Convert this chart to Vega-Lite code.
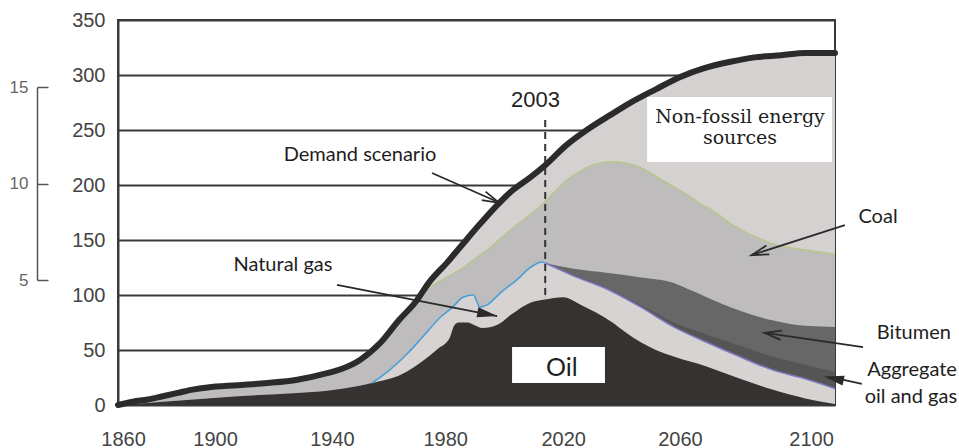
{
  "$schema": "https://vega.github.io/schema/vega-lite/v6.json",
  "width": 717,
  "height": 385,
  "autosize": {"type": "none"},
  "padding": {"left": 118, "top": 20, "right": 124, "bottom": 43},
  "background": "white",
  "config": {"view": {"stroke": "#3a3a3a", "strokeWidth": 2}},
  "datasets": {
    "demand": [
      {"year": 1860, "v": 0}, {"year": 1865, "v": 3}, {"year": 1870, "v": 5}, {"year": 1875, "v": 8},
      {"year": 1880, "v": 11}, {"year": 1885, "v": 14}, {"year": 1890, "v": 16}, {"year": 1900, "v": 18},
      {"year": 1910, "v": 20}, {"year": 1920, "v": 23}, {"year": 1930, "v": 29}, {"year": 1935, "v": 33},
      {"year": 1941, "v": 41}, {"year": 1948, "v": 57}, {"year": 1954, "v": 77}, {"year": 1960, "v": 95},
      {"year": 1964, "v": 111}, {"year": 1970, "v": 129}, {"year": 1975, "v": 145}, {"year": 1981, "v": 164},
      {"year": 1987, "v": 182}, {"year": 1992, "v": 195}, {"year": 1998, "v": 207}, {"year": 2003, "v": 218},
      {"year": 2010, "v": 236}, {"year": 2018, "v": 252}, {"year": 2025, "v": 264}, {"year": 2031, "v": 274},
      {"year": 2040, "v": 287}, {"year": 2048, "v": 298}, {"year": 2056, "v": 306}, {"year": 2065, "v": 312},
      {"year": 2073, "v": 316}, {"year": 2082, "v": 318}, {"year": 2090, "v": 320}, {"year": 2100, "v": 320}
    ],
    "coal": [
      {"year": 1860, "v": 0}, {"year": 1865, "v": 3}, {"year": 1870, "v": 5}, {"year": 1875, "v": 8},
      {"year": 1880, "v": 11}, {"year": 1885, "v": 14}, {"year": 1890, "v": 16}, {"year": 1900, "v": 18},
      {"year": 1910, "v": 20}, {"year": 1920, "v": 23}, {"year": 1930, "v": 29}, {"year": 1935, "v": 33},
      {"year": 1941, "v": 41}, {"year": 1948, "v": 57}, {"year": 1954, "v": 77}, {"year": 1960, "v": 95},
      {"year": 1964, "v": 106}, {"year": 1968, "v": 113}, {"year": 1975, "v": 124}, {"year": 1979, "v": 132},
      {"year": 1985, "v": 144}, {"year": 1990, "v": 156}, {"year": 1995, "v": 167}, {"year": 2001, "v": 180},
      {"year": 2003, "v": 185}, {"year": 2010, "v": 204}, {"year": 2015, "v": 213}, {"year": 2020, "v": 219},
      {"year": 2025, "v": 221}, {"year": 2030, "v": 220}, {"year": 2035, "v": 216}, {"year": 2040, "v": 208},
      {"year": 2045, "v": 200}, {"year": 2050, "v": 192}, {"year": 2055, "v": 183}, {"year": 2060, "v": 175},
      {"year": 2065, "v": 165}, {"year": 2070, "v": 157}, {"year": 2075, "v": 151}, {"year": 2080, "v": 146},
      {"year": 2090, "v": 141}, {"year": 2100, "v": 137}
    ],
    "gas": [
      {"year": 1860, "v": 0}, {"year": 1875, "v": 3}, {"year": 1900, "v": 8}, {"year": 1920, "v": 11},
      {"year": 1930, "v": 13}, {"year": 1940, "v": 17}, {"year": 1945, "v": 20}, {"year": 1951, "v": 32},
      {"year": 1957, "v": 47}, {"year": 1962, "v": 62}, {"year": 1968, "v": 80}, {"year": 1972, "v": 89},
      {"year": 1975.5, "v": 98}, {"year": 1979, "v": 100}, {"year": 1980, "v": 95}, {"year": 1981, "v": 89},
      {"year": 1983.5, "v": 91}, {"year": 1988, "v": 102}, {"year": 1993.6, "v": 114}, {"year": 1998, "v": 125},
      {"year": 2002, "v": 130}, {"year": 2003, "v": 129}
    ],
    "oil": [
      {"year": 1860, "v": 0}, {"year": 1875, "v": 3}, {"year": 1900, "v": 8}, {"year": 1920, "v": 11},
      {"year": 1930, "v": 13}, {"year": 1940, "v": 17}, {"year": 1945, "v": 20}, {"year": 1955, "v": 28},
      {"year": 1962, "v": 40}, {"year": 1967, "v": 51}, {"year": 1971, "v": 61}, {"year": 1972.5, "v": 72},
      {"year": 1974, "v": 75}, {"year": 1977, "v": 75}, {"year": 1979, "v": 73}, {"year": 1982, "v": 70},
      {"year": 1987, "v": 73}, {"year": 1992, "v": 83}, {"year": 1998, "v": 93}, {"year": 2003, "v": 96},
      {"year": 2009, "v": 98}, {"year": 2015, "v": 91}, {"year": 2020, "v": 84}, {"year": 2025, "v": 76},
      {"year": 2030, "v": 66}, {"year": 2035, "v": 57}, {"year": 2040, "v": 50}, {"year": 2046, "v": 44},
      {"year": 2057, "v": 35}, {"year": 2068, "v": 24}, {"year": 2079, "v": 14}, {"year": 2090, "v": 6},
      {"year": 2100, "v": 1}
    ],
    "light": [
      {"year": 2003, "v": 129}, {"year": 2012, "v": 118}, {"year": 2024, "v": 105}, {"year": 2035, "v": 89},
      {"year": 2046, "v": 71}, {"year": 2057, "v": 57}, {"year": 2068, "v": 44}, {"year": 2079, "v": 32},
      {"year": 2091, "v": 23}, {"year": 2100, "v": 15}
    ],
    "agg": [
      {"year": 2003, "v": 129}, {"year": 2012, "v": 119}, {"year": 2024, "v": 106}, {"year": 2035, "v": 91},
      {"year": 2046, "v": 75}, {"year": 2057, "v": 64}, {"year": 2068, "v": 54}, {"year": 2079, "v": 44},
      {"year": 2091, "v": 36}, {"year": 2100, "v": 30}
    ],
    "bit": [
      {"year": 2003, "v": 129}, {"year": 2012, "v": 124}, {"year": 2024, "v": 120}, {"year": 2035, "v": 116},
      {"year": 2046, "v": 111}, {"year": 2052, "v": 104}, {"year": 2057, "v": 98}, {"year": 2068, "v": 86},
      {"year": 2079, "v": 77}, {"year": 2090, "v": 72}, {"year": 2100, "v": 71}
    ],
    "arrows": [
      {"name": "Demand scenario", "x1": 1965.1, "y1": 210.9, "x2": 1987.9, "y2": 183.6, "hx": 1985.0, "hy": 186.9, "dir": 114, "open": true},
      {"name": "Natural gas", "x1": 1933.3, "y1": 109.1, "x2": 1986.9, "y2": 80.9, "hx": 1983.6, "hy": 82.6, "dir": 101, "open": false},
      {"name": "Coal", "x1": 2103.3, "y1": 163.6, "x2": 2072.2, "y2": 136.4, "hx": 2074.8, "hy": 138.6, "dir": 252, "open": true},
      {"name": "Bitumen", "x1": 2109.4, "y1": 52.7, "x2": 2076.6, "y2": 65.5, "hx": 2079.2, "hy": 64.5, "dir": 278, "open": true},
      {"name": "Aggregate", "x1": 2109.0, "y1": 19.1, "x2": 2098.3, "y2": 25.5, "hx": 2099.6, "hy": 24.0, "dir": 282, "open": false}
    ],
    "notes": [
      {"text": "Demand scenario", "x": 1941.0, "y": 227.3},
      {"text": "Natural gas", "x": 1915.2, "y": 127.3},
      {"text": "Coal", "x": 2114.4, "y": 170.9},
      {"text": "Bitumen", "x": 2126.4, "y": 65.5},
      {"text": "Aggregate", "x": 2125.8, "y": 31.8},
      {"text": "oil and gas", "x": 2125.4, "y": 7.3}
    ],
    "boxes": [
      {"x": 1991.9, "x2": 2023.0, "y": 20, "y2": 52.7},
      {"x": 2037.1, "x2": 2099.0, "y": 221, "y2": 280}
    ]
  },
  "layer": [
    {
      "layer": [
        {
          "data": {"name": "demand"},
          "mark": {"type": "area", "color": "#d5d1d1", "interpolate": "monotone"},
          "encoding": {
            "x": {"field": "year", "type": "quantitative", "scale": {"domain": [1860, 2100], "nice": false},
              "axis": {"values": [1861.7, 1892.5, 1931.6, 1969.5, 2009.0, 2048.1, 2092.0],
                "labelExpr": "datum.value < 1870 ? '1860' : datum.value < 1910 ? '1900' : datum.value < 1950 ? '1940' : datum.value < 1990 ? '1980' : datum.value < 2030 ? '2020' : datum.value < 2070 ? '2060' : '2100'",
                "ticks": false, "domain": false, "grid": false, "labelPadding": 24, "labelFont": "Liberation Sans",
                "labelFontSize": 20, "labelColor": "#444", "title": null, "labelFlush": false, "labelOverlap": false}},
            "y": {"field": "v", "type": "quantitative", "scale": {"domain": [0, 350], "nice": false},
              "axis": {"values": [0, 50, 100, 150, 200, 250, 300, 350], "grid": true, "gridColor": "#3a3a3a", "gridWidth": 2,
                "ticks": false, "domain": true, "domainColor": "#3a3a3a", "domainWidth": 2, "labelPadding": 13,
                "labelFont": "Liberation Sans", "labelFontSize": 20, "labelColor": "#444", "title": null}}
          }
        },
        {
          "data": {"name": "coal"},
          "mark": {"type": "area", "color": "#bebcbc", "interpolate": "monotone"},
          "encoding": {
            "x": {"field": "year", "type": "quantitative", "title": null},
            "y": {"field": "v", "type": "quantitative", "title": null}
          }
        },
        {
          "data": {"name": "gas"},
          "mark": {"type": "area", "color": "#d7d3d3", "interpolate": "monotone"},
          "encoding": {
            "x": {"field": "year", "type": "quantitative", "title": null},
            "y": {"field": "v", "type": "quantitative", "title": null}
          }
        },
        {
          "data": {"name": "bit"},
          "mark": {"type": "area", "color": "#686767", "interpolate": "monotone"},
          "encoding": {
            "x": {"field": "year", "type": "quantitative", "title": null},
            "y": {"field": "v", "type": "quantitative", "title": null}
          }
        },
        {
          "data": {"name": "agg"},
          "mark": {"type": "area", "color": "#565555", "interpolate": "monotone"},
          "encoding": {
            "x": {"field": "year", "type": "quantitative", "title": null},
            "y": {"field": "v", "type": "quantitative", "title": null}
          }
        },
        {
          "data": {"name": "light"},
          "mark": {"type": "area", "color": "#d7d3d3", "interpolate": "monotone"},
          "encoding": {
            "x": {"field": "year", "type": "quantitative", "title": null},
            "y": {"field": "v", "type": "quantitative", "title": null}
          }
        },
        {
          "data": {"name": "oil"},
          "mark": {"type": "area", "color": "#353332", "interpolate": "monotone"},
          "encoding": {
            "x": {"field": "year", "type": "quantitative", "title": null},
            "y": {"field": "v", "type": "quantitative", "title": null}
          }
        },
        {
          "data": {"name": "coal"},
          "transform": [{"filter": "datum.year >= 1960"}],
          "mark": {"type": "line", "color": "#b9c78e", "strokeWidth": 1.6, "interpolate": "monotone"},
          "encoding": {
            "x": {"field": "year", "type": "quantitative", "title": null},
            "y": {"field": "v", "type": "quantitative", "title": null}
          }
        },
        {
          "data": {"name": "gas"},
          "transform": [{"filter": "datum.year >= 1945"}],
          "mark": {"type": "line", "color": "#4a9fd5", "strokeWidth": 1.6, "interpolate": "monotone"},
          "encoding": {
            "x": {"field": "year", "type": "quantitative", "title": null},
            "y": {"field": "v", "type": "quantitative", "title": null}
          }
        },
        {
          "data": {"name": "light"},
          "mark": {"type": "line", "color": "#7a78c0", "strokeWidth": 1.6, "interpolate": "monotone"},
          "encoding": {
            "x": {"field": "year", "type": "quantitative", "title": null},
            "y": {"field": "v", "type": "quantitative", "title": null}
          }
        },
        {
          "data": {"name": "demand"},
          "mark": {"type": "line", "color": "#2b2b2b", "strokeWidth": 6, "strokeCap": "round", "interpolate": "monotone"},
          "encoding": {
            "x": {"field": "year", "type": "quantitative", "title": null},
            "y": {"field": "v", "type": "quantitative", "title": null}
          }
        },
        {
          "data": {"values": [{"year": 2003, "top": 259, "bottom": 97}]},
          "mark": {"type": "rule", "color": "#333", "strokeWidth": 2, "strokeDash": [7, 5]},
          "encoding": {
            "x": {"field": "year", "type": "quantitative", "title": null},
            "y": {"field": "top", "type": "quantitative", "title": null},
            "y2": {"field": "bottom"}
          }
        },
        {
          "data": {"name": "boxes"},
          "mark": {"type": "rect", "color": "white"},
          "encoding": {
            "x": {"field": "x", "type": "quantitative", "title": null},
            "x2": {"field": "x2"},
            "y": {"field": "y", "type": "quantitative", "title": null},
            "y2": {"field": "y2"}
          }
        },
        {
          "data": {"name": "arrows"},
          "mark": {"type": "rule", "color": "#2a2a2a", "strokeWidth": 1.8},
          "encoding": {
            "x": {"field": "x1", "type": "quantitative", "title": null},
            "y": {"field": "y1", "type": "quantitative", "title": null},
            "x2": {"field": "x2"},
            "y2": {"field": "y2"}
          }
        },
        {
          "data": {"name": "arrows"},
          "transform": [{"filter": "!datum.open"}],
          "mark": {"type": "point", "shape": "M0,-1L0.5,1L-0.5,1Z", "filled": true, "color": "#2a2a2a", "size": 400, "opacity": 1},
          "encoding": {
            "x": {"field": "hx", "type": "quantitative", "title": null},
            "y": {"field": "hy", "type": "quantitative", "title": null},
            "angle": {"field": "dir", "type": "quantitative", "scale": {"domain": [0, 360], "range": [0, 360]}}
          }
        },
        {
          "data": {"name": "arrows"},
          "transform": [{"filter": "datum.open"}],
          "mark": {"type": "point", "shape": "M-0.55,1L0,-1L0.55,1", "filled": false, "color": "#2a2a2a", "strokeWidth": 1.8, "size": 290, "opacity": 1},
          "encoding": {
            "x": {"field": "hx", "type": "quantitative", "title": null},
            "y": {"field": "hy", "type": "quantitative", "title": null},
            "angle": {"field": "dir", "type": "quantitative", "scale": {"domain": [0, 360], "range": [0, 360]}}
          }
        },
        {
          "data": {"name": "notes"},
          "mark": {"type": "text", "font": "Lato", "fontSize": 20, "color": "#1e1e1e", "align": "center", "baseline": "middle"},
          "encoding": {
            "x": {"field": "x", "type": "quantitative", "title": null},
            "y": {"field": "y", "type": "quantitative", "title": null},
            "text": {"field": "text"}
          }
        },
        {
          "data": {"values": [{"text": "Oil", "x": 2008.6, "y": 33.6}]},
          "mark": {"type": "text", "font": "Lato", "fontSize": 25, "color": "#1e1e1e", "align": "center", "baseline": "middle"},
          "encoding": {
            "x": {"field": "x", "type": "quantitative", "title": null},
            "y": {"field": "y", "type": "quantitative", "title": null},
            "text": {"field": "text"}
          }
        },
        {
          "data": {"values": [{"text": "2003", "x": 1999.75, "y": 277.3}]},
          "mark": {"type": "text", "font": "Liberation Sans", "fontSize": 22, "color": "#222", "align": "center", "baseline": "middle"},
          "encoding": {
            "x": {"field": "x", "type": "quantitative", "title": null},
            "y": {"field": "y", "type": "quantitative", "title": null},
            "text": {"field": "text"}
          }
        },
        {
          "data": {"values": [{"text": "Non-fossil energy", "x": 2068.2, "y": 261.8}, {"text": "sources", "x": 2068.2, "y": 242.7}]},
          "mark": {"type": "text", "font": "DejaVu Serif", "fontSize": 19, "color": "#1e1e1e", "align": "center", "baseline": "middle"},
          "encoding": {
            "x": {"field": "x", "type": "quantitative", "title": null},
            "y": {"field": "y", "type": "quantitative", "title": null},
            "text": {"field": "text"}
          }
        }
      ]
    },
    {
      "data": {"values": [{"b": 5}, {"b": 15}]},
      "mark": {"type": "point", "opacity": 0},
      "encoding": {
        "y": {"field": "b", "type": "quantitative", "scale": {"domain": [5, 15], "range": [260, 67]},
          "axis": {"orient": "left", "offset": 81, "values": [5, 10, 15], "grid": false, "domain": true,
            "domainColor": "#555", "domainWidth": 1.5, "ticks": true, "tickSize": -11, "tickColor": "#555",
            "tickWidth": 1.5, "labelPadding": 20, "labelFont": "Liberation Sans", "labelFontSize": 17,
            "labelColor": "#666", "title": null}}
      }
    }
  ],
  "resolve": {"scale": {"y": "independent"}, "axis": {"y": "independent"}}
}
